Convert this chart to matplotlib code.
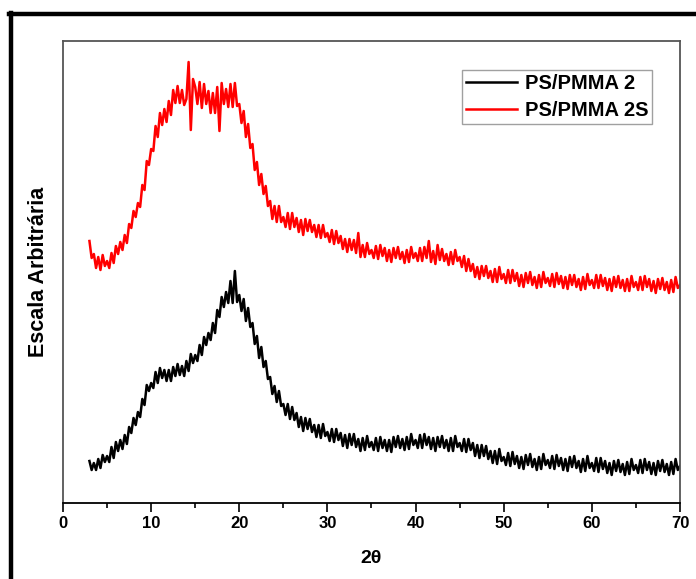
import numpy as np
import matplotlib.pyplot as plt
from matplotlib.lines import Line2D

# 2theta grid, 0.25 deg step
dois_theta = np.arange(3, 70.01, 0.25)

# PS/PMMA 2 (preto) - intensidade (unidade arbitraria)
ps_pmma_2 = [
    42, 33, 40, 33,  44, 35, 48, 41,  47, 41, 56, 45,  61, 52, 63, 54,
    68, 59, 76, 70,  85, 78, 91, 86,  104, 98, 118, 112,  120, 115, 131, 120,
    135, 125, 133, 122,  133, 122, 136, 127,  139, 128, 137, 127,  142, 132, 149, 140,
    148, 142, 158, 148,  166, 158, 170, 163,  180, 170, 193, 186,  206, 196, 211, 200,
    222, 200, 232, 201,  208, 192, 204, 182,  195, 176, 180, 159,  167, 145, 156, 136,
    142, 124, 126, 109,  117, 101, 112, 97,  99, 88, 99, 84,  96, 83, 90, 76,
    86, 72, 85, 74,  84, 71, 78, 66,  78, 65, 79, 67,  71, 62, 74, 61,
    74, 63, 70, 57,  68, 55, 69, 58,  69, 56, 64, 52,  65, 53, 67, 56,
    61, 53, 65, 52,  66, 55, 63, 52,  63, 51, 66, 56,  67, 55, 64, 53,
    66, 54, 69, 58,  63, 55, 68, 55,  69, 58, 66, 54,  65, 52, 66, 56,
    67, 55, 63, 52,  65, 52, 67, 56,  60, 52, 64, 51,  64, 53, 60, 47,
    58, 45, 58, 47,  57, 44, 52, 40,  52, 39, 54, 42,  46, 38, 50, 37,
    51, 39, 47, 35,  46, 34, 48, 38,  49, 36, 44, 33,  46, 34, 49, 38,
    43, 35, 47, 34,  48, 37, 45, 33,  44, 32, 46, 36,  47, 35, 42, 31,
    44, 32, 47, 35,  40, 32, 45, 31,  45, 34, 42, 30,  40, 28, 42, 32,
    43, 31, 39, 28,  41, 29, 44, 33,  38, 30, 43, 30,  44, 33, 41, 29,
    40, 28, 42, 32,  43, 31, 39, 28,  41, 29, 44, 33,  37,
]

# PS/PMMA 2S (vermelho)
ps_pmma_2s = [
    262, 245, 249, 235,  246, 233, 248, 237,  242, 235, 250, 240,  257, 249, 261, 253,
    268, 260, 279, 275,  292, 286, 300, 296,  318, 313, 342, 338,  354, 352, 377, 366,
    390, 378, 394, 381,  402, 388, 413, 400,  417, 400, 413, 398,  404, 441, 373, 424,
    416, 399, 421, 395,  419, 399, 412, 390,  410, 390, 416, 372,  420, 399, 414, 396,
    419, 396, 420, 397,  399, 380, 392, 366,  379, 355, 359, 333,  341, 318, 329, 309,
    317, 297, 302, 284,  297, 281, 297, 281,  286, 276, 290, 274,  290, 276, 285, 271,
    283, 268, 284, 272,  283, 271, 278, 266,  278, 265, 278, 266,  270, 261, 273, 259,
    272, 260, 267, 254,  264, 251, 264, 253,  263, 250, 270, 246,  258, 246, 260, 249,
    253, 245, 257, 244,  258, 247, 255, 242,  253, 241, 255, 245,  256, 244, 251, 240,
    253, 241, 256, 245,  250, 242, 255, 242,  256, 245, 262, 241,  252, 239, 258, 243,
    254, 242, 249, 238,  251, 239, 253, 242,  246, 236, 247, 232,  244, 232, 239, 226,
    236, 224, 237, 227,  237, 225, 232, 221,  234, 221, 236, 224,  229, 220, 233, 220,
    233, 222, 230, 217,  228, 216, 230, 220,  231, 218, 226, 215,  228, 216, 231, 220,
    225, 217, 229, 216,  230, 219, 227, 215,  226, 214, 228, 218,  228, 216, 224, 213,
    226, 214, 229, 218,  223, 215, 228, 215,  228, 217, 225, 213,  224, 212, 226, 216,
    227, 215, 223, 212,  224, 212, 227, 216,  221, 213, 226, 213,  227, 216, 224, 212,
    222, 210, 224, 214,  225, 213, 221, 210,  223, 211, 226, 215,  218,
]

rotulos = ["PS/PMMA 2", "PS/PMMA 2S"]
cores = ["black", "red"]

plt.rcParams['font.family'] = ['Liberation Sans', 'DejaVu Sans']

fig = plt.figure(figsize=(6.96, 5.79), dpi=100)
ax = fig.add_axes([63/696, 1 - 503/579, 617/696, 462/579])

ax.plot(dois_theta, ps_pmma_2, color=cores[0], lw=1.8)
ax.plot(dois_theta, ps_pmma_2s, color=cores[1], lw=1.8)

ax.set_xlim(0, 70)
ax.set_ylim(0, 462)
ax.set_xticks(np.arange(0, 71, 10))
ax.set_xticks(np.arange(5, 70, 10), minor=True)
ax.set_yticks([])
ax.tick_params(axis='x', which='major', length=6.5, width=1.2, labelsize=12, pad=2.5)
ax.tick_params(axis='x', which='minor', length=3.5, width=1.2)
for lab in ax.get_xticklabels():
    lab.set_fontweight('bold')

for s in ['top', 'left', 'right']:
    ax.spines[s].set_color('#555555')
    ax.spines[s].set_linewidth(1.3)
ax.spines['bottom'].set_linewidth(1.3)

ax.set_xlabel('2θ', fontsize=14, fontweight='bold', labelpad=14)
ax.set_ylabel('Escala Arbitrária', fontsize=15.5, fontweight='bold', labelpad=10)

# legenda
handles = [Line2D([], [], color=c, lw=1.8) for c in cores]
leg = ax.legend(handles, rotulos, loc='upper right', bbox_to_anchor=(0.955, 0.937),
                borderaxespad=0, prop={'weight': 'bold', 'size': 14.5},
                frameon=True, fancybox=False, handlelength=2.5, handletextpad=0.4,
                borderpad=0.2, labelspacing=0.4)
leg.get_frame().set_edgecolor('#888888')
leg.get_frame().set_linewidth(1.0)

# moldura preta da figura (esquerda e topo)
fig.add_artist(Line2D([10.5/696, 10.5/696], [0, 1 - 13/579], color='black', lw=3.2,
                      transform=fig.transFigure))
fig.add_artist(Line2D([9/696, 1], [1 - 13.5/579, 1 - 13.5/579], color='black', lw=3.2,
                      transform=fig.transFigure))

fig.savefig('out.png', dpi=100)
